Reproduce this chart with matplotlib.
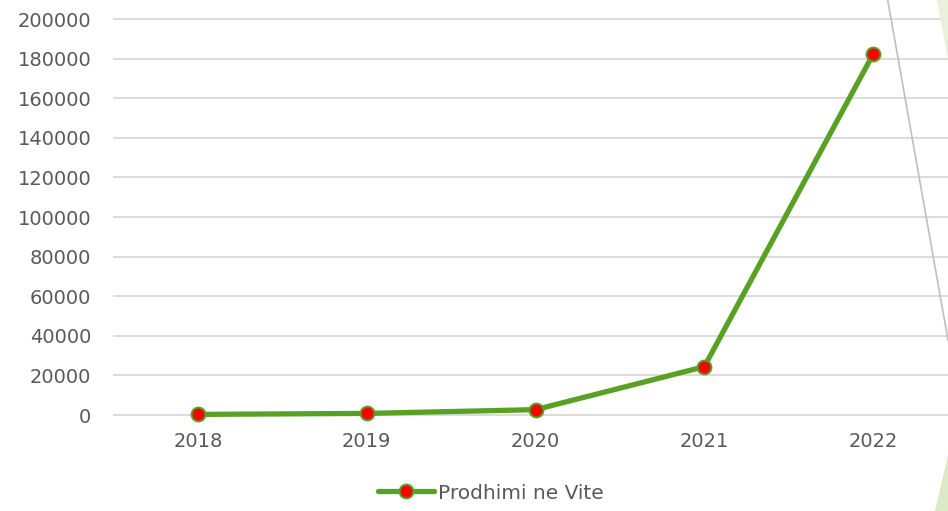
import matplotlib.pyplot as plt
from matplotlib.patches import Polygon
from matplotlib.lines import Line2D

years = ["2018", "2019", "2020", "2021", "2022"]
production = [300, 800, 2700, 24400, 182200]
series_name = "Prodhimi ne Vite"

fig = plt.figure(figsize=(9.48, 5.11), dpi=100)

# slide decoration behind the chart (light green wedges and thin grey line)
fig.patches.append(Polygon([[936.7 / 948, 1], [1, 1], [1, 1 - 60 / 511]],
                           closed=True, transform=fig.transFigure,
                           facecolor="#e9f1dc", edgecolor="none", zorder=0))
fig.patches.append(Polygon([[935 / 948, 0], [1, 0], [1, 1 - 455 / 511]],
                           closed=True, transform=fig.transFigure,
                           facecolor="#dde9c6", edgecolor="none", zorder=0))
fig.lines.append(Line2D([887.7 / 948, 1], [1, 1 - 340 / 511],
                        transform=fig.transFigure, color="#bfbfbf", lw=1.2, zorder=0))

ax = fig.add_axes([113.5 / 948, 1 - 415 / 511, 844 / 948, 396 / 511])
ax.patch.set_alpha(0)

x = list(range(len(years)))
ax.plot(x, production, color="#58a124", lw=3.8, marker="o", markersize=10,
        markerfacecolor="#ff0000", markeredgecolor="#58a124", markeredgewidth=1.4,
        solid_capstyle="round", label=series_name, zorder=3, clip_on=False)

ax.set_xlim(-0.5, 4.5)
ax.set_ylim(0, 200000)
ax.set_yticks(range(0, 200001, 20000))
ax.set_xticks(x)
ax.set_xticklabels(years)
ax.grid(axis="y", color="#d9d9d9", lw=1.3, clip_on=False)
ax.set_axisbelow(True)
for s in ax.spines.values():
    s.set_visible(False)
ax.tick_params(length=0, labelsize=14, labelcolor="#595959")
ax.tick_params(axis="y", pad=16)
ax.tick_params(axis="x", pad=12)

leg = fig.legend(handles=ax.get_lines(), loc="center", bbox_to_anchor=(491 / 948, 1 - 493 / 511),
                 frameon=False, fontsize=14.5, handlelength=2.8, handletextpad=0.2)
for t in leg.get_texts():
    t.set_color("#595959")

fig.savefig("out.png", dpi=100)
